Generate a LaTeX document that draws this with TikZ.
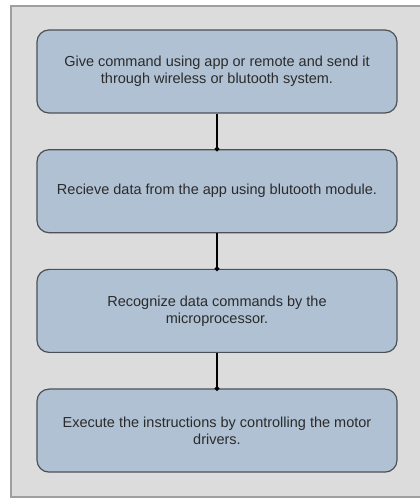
\documentclass[tikz,border=0pt]{standalone}
\usepackage{fontspec}
\setmainfont{Liberation Sans}
\usepackage{tikz}
\usetikzlibrary{positioning, arrows.meta}

\definecolor{panelgray}{HTML}{DCDCDC}
\definecolor{stepblue}{HTML}{B0C1D3}
\definecolor{stepborder}{HTML}{4C5157}
\definecolor{steptext}{HTML}{2B2B2B}

\begin{document}
\begin{tikzpicture}[
                x=1pt, y=1pt,
                node distance=35.5pt, % Gap between the step boxes
                stepbox/.style={rectangle, rounded corners=12pt, draw=stepborder, line width=1.2pt,
                    fill=stepblue, minimum width=360pt, minimum height=83pt, align=center,
                    text=steptext, font=\fontsize{14.5}{17}\selectfont}, % One step of the flow
                link/.style={line width=1.6pt, black, -{Circle[length=4.5pt]}, shorten >=-2.2pt} % Line between steps
                ]
                \useasboundingbox (0,0) rectangle (420,499);
                \fill[white] (0,0) rectangle (420,499);
                \draw[fill=panelgray, draw=gray!75, line width=1.4pt] (11,2) rectangle (421,493);

                \node[stepbox] (give) at (217,427.5) {Give command using app or remote and send it\\through wireless or blutooth system.};
                \node[stepbox, below=of give] (receive) {Recieve data from the app using blutooth module.};
                \node[stepbox, below=of receive] (recognize) {Recognize data commands by the\\microprocessor.};
                \node[stepbox, below=of recognize] (execute) {Execute the instructions by controlling the motor\\drivers.};

                \draw[link] (give) -- (receive);
                \draw[link] (receive) -- (recognize);
                \draw[link] (recognize) -- (execute);
            \end{tikzpicture}
\end{document}
